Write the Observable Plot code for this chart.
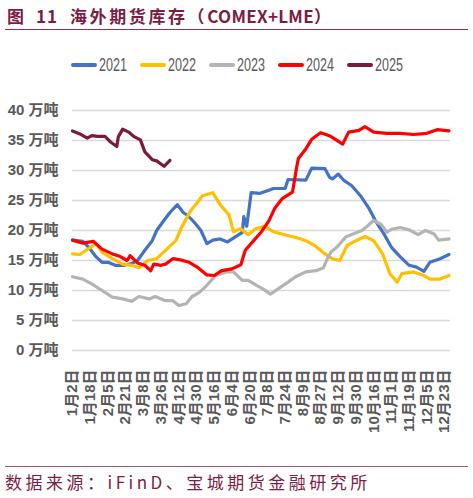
<!DOCTYPE html>
<html>
<head>
<meta charset="utf-8">
<script src="https://cdn.jsdelivr.net/npm/d3@7"></script>
<script src="https://cdn.jsdelivr.net/npm/@observablehq/plot@0.6"></script>
<style>
  body { margin: 0; background: #fff; }
  #wrap { position: relative; width: 473px; height: 498px; overflow: hidden; font-family: "Noto Sans CJK SC", sans-serif; }
  .t { position: absolute; top: 3px; font-size: 17px; font-weight: bold; color: #7B1E45; white-space: nowrap; }
  #rule1 { position: absolute; left: 5px; width: 463px; top: 29px; height: 0; border-top: 1.3px solid #8B3458; }
  #legend { position: absolute; left: 71px; top: 55px; height: 20px; }
  .sw { position: absolute; top: 8px; width: 26px; height: 4px; border-radius: 2px; }
  .lab { position: absolute; top: -1px; font-family: "Liberation Sans", Arial, sans-serif; font-size: 19px; color: #595959; transform: scaleX(0.66); transform-origin: 0 50%; white-space: nowrap; }
  #chart { position: absolute; left: 0; top: 85px; }
  #rule2 { position: absolute; left: 5px; width: 463px; top: 466px; height: 0; border-top: 1.3px solid #A05A78; }
  #source { position: absolute; left: 5px; top: 469px; font-size: 17px; color: #7B1E45; white-space: nowrap; letter-spacing: 3.5px; }
</style>
</head>
<body>
<div id="wrap">
  <div class="t" style="left:7px">图</div>
  <div class="t" style="left:36px;letter-spacing:1px">11</div>
  <div class="t" style="left:70px"><span style="letter-spacing:2.6px">海外期货库存（</span><span style="letter-spacing:0.3px">COMEX+LME）</span></div>
  <div id="rule1"></div>
  <div id="legend"></div>
  <div id="chart"></div>
  <div id="rule2"></div>
  <div id="source">数据来源：iFinD、宝城期货金融研究所</div>
</div>
<script>
// Category axis: trading-day index, labelled every 12th day
const tickLabels = ["1月2日","1月18日","2月5日","2月21日","3月8日","3月26日","4月12日","4月30日","5月16日","6月4日","6月20日","7月8日","7月24日","8月9日","8月27日","9月12日","9月30日","10月16日","11月1日","11月19日","12月5日","12月23日"];
const tickDays = [0,12,24,36,48,60,72,84,96,108,120,132,144,156,168,180,192,204,216,228,240,252];
const yTicks = [0,5,10,15,20,25,30,35,40];

const years = ["2021","2022","2023","2024","2025"];
const colors = ["#4472C4","#FFC000","#B4B4B4","#FF0000","#7A1A3E"];

// [trading-day index, 万吨]
const s2021 = [[0,18.4],[7,18.2],[11,17.2],[16,15.6],[20,14.7],[24,14.7],[29,14.2],[35,14.2],[40,14.5],[44,15.0],[49,16.7],[54,18.3],[57,20.0],[62,21.7],[66,23.0],[71,24.3],[75,23.0],[78,22.5],[82,21.5],[87,20.0],[91,17.8],[95,18.4],[100,18.6],[105,18.1],[110,18.9],[115,19.7],[116,22.3],[118,20.7],[121,26.3],[127,26.2],[133,26.7],[136,27.0],[144,27.0],[146,28.5],[158,28.4],[162,30.4],[171,30.3],[174,28.9],[176,28.6],[180,29.4],[184,28.3],[189,27.5],[195,25.8],[201,23.6],[205,21.7],[211,19.4],[216,17.2],[222,15.6],[228,14.2],[233,13.9],[238,13.2],[242,14.7],[249,15.3],[255,16.0]];
const s2022 = [[0,16.1],[5,16.0],[11,17.0],[16,17.8],[20,16.4],[27,15.3],[34,14.4],[40,14.2],[45,13.8],[51,15.0],[57,15.3],[63,16.7],[70,18.3],[74,20.6],[80,23.3],[84,24.5],[88,25.8],[95,26.3],[100,24.3],[106,22.6],[109,19.8],[114,20.3],[119,19.3],[124,20.3],[130,20.7],[136,19.8],[145,19.2],[152,18.8],[158,18.3],[164,17.5],[171,16.1],[176,15.3],[181,15.0],[186,17.5],[192,18.3],[198,19.0],[204,18.3],[210,16.1],[215,12.8],[220,11.4],[223,12.8],[231,13.1],[238,12.5],[242,11.9],[249,11.9],[255,12.5]];
const s2023 = [[0,12.3],[7,11.9],[13,11.1],[20,10.0],[27,8.9],[34,8.6],[40,8.2],[45,9.0],[52,8.6],[56,9.0],[63,8.3],[68,8.3],[72,7.5],[77,7.8],[81,9.0],[86,9.7],[90,10.6],[97,12.5],[104,13.1],[109,13.1],[115,11.7],[119,11.7],[125,10.8],[130,10.1],[134,9.4],[140,10.4],[146,11.4],[151,12.3],[158,13.1],[165,13.3],[170,13.8],[172,15.0],[175,16.4],[179,17.2],[185,18.9],[190,19.4],[196,20.0],[200,20.8],[204,21.7],[209,21.0],[213,19.7],[216,20.2],[222,20.5],[228,20.1],[234,19.3],[239,20.0],[245,19.4],[248,18.4],[255,18.6]];
const s2024 = [[0,18.4],[7,17.9],[14,18.2],[20,16.9],[27,16.1],[32,15.7],[37,15.0],[39,15.8],[44,14.6],[49,14.2],[53,13.3],[55,14.4],[60,14.2],[63,14.4],[68,15.3],[73,15.1],[79,14.7],[85,13.8],[91,12.6],[96,12.5],[101,13.3],[108,13.6],[114,14.3],[117,16.7],[123,18.4],[128,19.8],[133,21.6],[137,23.7],[142,25.3],[149,26.4],[152,30.8],[153,32.0],[158,33.6],[162,35.2],[168,36.3],[174,35.8],[178,35.2],[183,34.4],[187,36.4],[194,36.7],[198,37.3],[204,36.4],[213,36.2],[222,36.2],[231,36.0],[240,36.2],[247,36.8],[255,36.6]];
const s2025 = [[0,36.6],[5,36.1],[10,35.4],[13,35.8],[17,35.7],[22,35.7],[26,34.7],[30,34.0],[31,35.6],[34,36.9],[38,36.4],[42,35.6],[46,35.1],[49,33.1],[54,31.8],[57,31.6],[62,30.7],[66,31.7]];

const series = [s2021, s2022, s2023, s2024, s2025];
const rows = series.flatMap((s, i) => s.map(([day, value]) => ({day, value, year: years[i]})));
const labelByDay = new Map(tickDays.map((d, i) => [d, tickLabels[i]]));

// legend
const legend = document.getElementById("legend");
years.forEach((y, i) => {
  const sw = document.createElement("div"); sw.className = "sw"; sw.style.background = colors[i]; sw.style.left = (i * 69) + "px";
  const lb = document.createElement("div"); lb.className = "lab"; lb.textContent = y; lb.style.left = (i * 69 + 28) + "px";
  legend.append(sw, lb);
});

const chart = Plot.plot({
  width: 473,
  height: 375,
  marginTop: 25,
  marginBottom: 110,
  marginLeft: 72,
  marginRight: 23,
  style: {fontFamily: "'Liberation Sans','Noto Sans CJK SC',sans-serif", color: "#595959", background: "#fff"},
  x: {domain: [0, 256]},
  y: {domain: [0, 40]},
  color: {domain: years, range: colors},
  marks: [
    Plot.gridY(yTicks, {stroke: "#D9D9D9", strokeOpacity: 1, strokeWidth: 1.3}),
    Plot.axisY(yTicks, {tickSize: 0, tickPadding: 14, tickFormat: d => d + " 万吨", fontSize: 15, fontWeight: "bold", fill: "#595959", label: null}),
    Plot.axisX(tickDays, {tickSize: 0, tickPadding: 19, tickRotate: -90, tickFormat: d => labelByDay.get(d), fontSize: 15, fontWeight: "bold", fill: "#595959", label: null}),
    Plot.line(rows, {x: "day", y: "value", z: "year", stroke: "year", strokeWidth: 3.2, curve: "linear"})
  ]
});
document.getElementById("chart").append(chart);
</script>
</body>
</html>
